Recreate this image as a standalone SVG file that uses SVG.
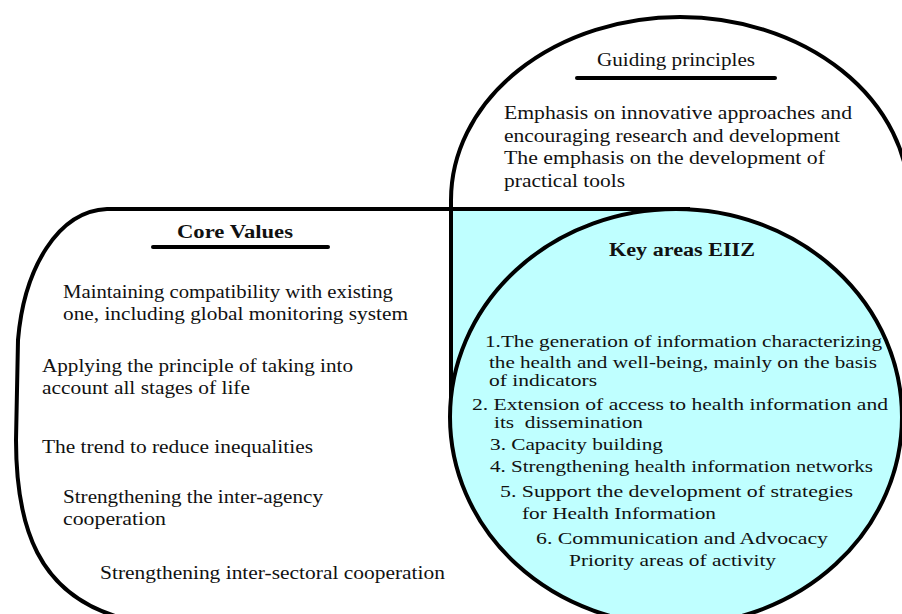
<svg xmlns="http://www.w3.org/2000/svg" width="902" height="614" viewBox="0 0 902 614">
  <style>
    .edge { fill: none; stroke: #000; stroke-width: 4; stroke-linejoin: round; }
    .rule { stroke: #000; stroke-width: 4; stroke-linecap: round; }
    .t { font-family: "Liberation Serif", "Times New Roman", serif; font-size: 18px; fill: #111; }
    .s { font-size: 16px; }
    .h { font-weight: bold; font-size: 18px; }
  </style>
  <rect width="902" height="614" fill="#fff"/>

  <!-- overlap of the top dome and the left block -->
  <rect x="451" y="209" width="230" height="206" fill="#bfffff"/>

  <g id="guiding-principles">
    <path class="edge" d="M 451 415 L 451 200 A 229 183 0 0 1 680 17 A 229 183 0 0 1 909 200 L 909 415"/>
    <text class="t" x="597" y="66" textLength="158" lengthAdjust="spacingAndGlyphs">Guiding principles</text>
    <line class="rule" x1="577" y1="78" x2="775" y2="78"/>
    <text class="t" x="504" y="119" textLength="348" lengthAdjust="spacingAndGlyphs">Emphasis on innovative approaches and</text>
    <text class="t" x="504" y="142" textLength="336" lengthAdjust="spacingAndGlyphs">encouraging research and development</text>
    <text class="t" x="504" y="164" textLength="321" lengthAdjust="spacingAndGlyphs">The emphasis on the development of</text>
    <text class="t" x="504" y="187" textLength="121" lengthAdjust="spacingAndGlyphs">practical tools</text>
  </g>

  <g id="core-values">
    <path class="edge" d="M 690 209 L 107 209 C 58 211 24 268 18 340 L 16 440 C 16 530 40 592 115 616 L 640 616"/>
    <text class="t h" x="177" y="238" textLength="116" lengthAdjust="spacingAndGlyphs">Core Values</text>
    <line class="rule" x1="153" y1="247" x2="328" y2="247"/>
    <text class="t" x="63" y="298" textLength="330" lengthAdjust="spacingAndGlyphs">Maintaining compatibility with existing</text>
    <text class="t" x="63" y="320" textLength="345" lengthAdjust="spacingAndGlyphs">one, including global monitoring system</text>
    <text class="t" x="42" y="372" textLength="311" lengthAdjust="spacingAndGlyphs">Applying the principle of taking into</text>
    <text class="t" x="42" y="394" textLength="208" lengthAdjust="spacingAndGlyphs">account all stages of life</text>
    <text class="t" x="42" y="453" textLength="271" lengthAdjust="spacingAndGlyphs">The trend to reduce inequalities</text>
    <text class="t" x="63" y="503" textLength="260" lengthAdjust="spacingAndGlyphs">Strengthening the inter-agency</text>
    <text class="t" x="63" y="525" textLength="103" lengthAdjust="spacingAndGlyphs">cooperation</text>
    <text class="t" x="100" y="579" textLength="345" lengthAdjust="spacingAndGlyphs">Strengthening inter-sectoral cooperation</text>
  </g>

  <g id="key-areas">
    <ellipse cx="676" cy="417" rx="226" ry="208" fill="#bfffff" stroke="#000" stroke-width="4"/>
    <text class="t h" x="609" y="256" textLength="146" lengthAdjust="spacingAndGlyphs">Key areas EIIZ</text>
    <text class="t s" x="485" y="347" textLength="397" lengthAdjust="spacingAndGlyphs">1.The generation of information characterizing</text>
    <text class="t s" x="489" y="368" textLength="388" lengthAdjust="spacingAndGlyphs">the health and well-being, mainly on the basis</text>
    <text class="t s" x="489" y="386" textLength="108" lengthAdjust="spacingAndGlyphs">of indicators</text>
    <text class="t s" x="472" y="410" textLength="416" lengthAdjust="spacingAndGlyphs">2. Extension of access to health information and</text>
    <text class="t s" x="494" y="428" textLength="149" lengthAdjust="spacingAndGlyphs" xml:space="preserve">its  dissemination</text>
    <text class="t s" x="490" y="450" textLength="173" lengthAdjust="spacingAndGlyphs">3. Capacity building</text>
    <text class="t s" x="490" y="472" textLength="383" lengthAdjust="spacingAndGlyphs">4. Strengthening health information networks</text>
    <text class="t s" x="500" y="497" textLength="353" lengthAdjust="spacingAndGlyphs">5. Support the development of strategies</text>
    <text class="t s" x="522" y="519" textLength="194" lengthAdjust="spacingAndGlyphs">for Health Information</text>
    <text class="t s" x="536" y="544" textLength="292" lengthAdjust="spacingAndGlyphs">6. Communication and Advocacy</text>
    <text class="t s" x="569" y="566" textLength="207" lengthAdjust="spacingAndGlyphs">Priority areas of activity</text>
  </g>

  <g id="connectors"></g>
</svg>
